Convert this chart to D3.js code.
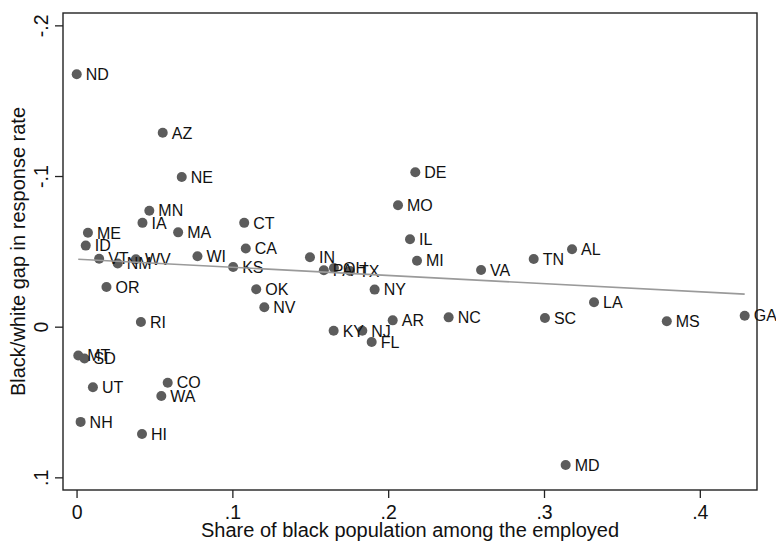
<!DOCTYPE html>
<html>
<head>
<meta charset="utf-8">
<script src="https://cdn.jsdelivr.net/npm/d3@7"></script>
<style>
  html, body { margin: 0; padding: 0; background: #fff; }
  svg { display: block; font-family: "Liberation Sans", Arial, Helvetica, sans-serif; }
</style>
</head>
<body>
<svg id="chart" width="776" height="542"></svg>
<script>
// ---- data ----
const states = ["ND","AZ","NE","MN","IA","ME","MA","ID","CT","CA","WI","VT","NM","WV","KS","OR","RI","MT","SD","UT","CO","WA","NH","HI","OK","NV","IN","PA","OH","TX","NY","DE","MO","IL","MI","VA","KY","NJ","FL","AR","NC","TN","AL","LA","SC","MS","GA","MD"];
const blackShare = [0.0001,0.0553,0.0675,0.0467,0.0423,0.0073,0.0652,0.0059,0.1076,0.1086,0.0776,0.0145,0.0264,0.0381,0.1005,0.0192,0.0413,0.0011,0.0051,0.0105,0.0585,0.0544,0.0026,0.0420,0.1153,0.1205,0.1498,0.1587,0.1652,0.1755,0.1913,0.2174,0.2063,0.2140,0.2185,0.2596,0.1650,0.1834,0.1894,0.2029,0.2388,0.2934,0.3180,0.3321,0.3006,0.3788,0.4288,0.3139];
const responseGap = [-0.1675,-0.1287,-0.0993,-0.0770,-0.0689,-0.0623,-0.0626,-0.0538,-0.0689,-0.0519,-0.0467,-0.0451,-0.0419,-0.0447,-0.0396,-0.0263,-0.0031,0.0191,0.0211,0.0402,0.0372,0.0460,0.0632,0.0712,-0.0248,-0.0129,-0.0461,-0.0374,-0.0390,-0.0370,-0.0246,-0.1025,-0.0806,-0.0580,-0.0438,-0.0376,0.0027,0.0027,0.0102,-0.0042,-0.0062,-0.0449,-0.0514,-0.0162,-0.0058,-0.0036,-0.0073,0.0918];
const fitX = [0.0011, 0.4288];
const fitY = [-0.0448, -0.0216];
const xTicks = [0, 0.1, 0.2, 0.3, 0.4];
const xTickLabels = ["0", ".1", ".2", ".3", ".4"];
const yTicks = [-0.2, -0.1, 0, 0.1];
const yTickLabels = ["-.2", "-.1", "0", ".1"];
const xTitle = "Share of black population among the employed";
const yTitle = "Black/white gap in response rate";

// ---- layout ----
const plot = { left: 63, right: 757, top: 13, bottom: 490 };
const svg = d3.select("#chart");

const x = d3.scaleLinear().domain([-0.0087, 0.4367]).range([plot.left, plot.right]);
// reversed y axis: negative values at the top
const y = d3.scaleLinear().domain([-0.2082, 0.1084]).range([plot.top, plot.bottom]);

const points = states.map((s, i) => ({ s, x: blackShare[i], y: responseGap[i] }));

// frame
svg.append("rect")
  .attr("x", plot.left).attr("y", plot.top)
  .attr("width", plot.right - plot.left).attr("height", plot.bottom - plot.top)
  .attr("fill", "none").attr("stroke", "#222").attr("stroke-width", 1.4);

// x axis
const xAxis = d3.axisBottom(x).tickValues(xTicks)
  .tickFormat((d, i) => xTickLabels[i]).tickSize(8).tickPadding(7);
const gx = svg.append("g").attr("transform", `translate(0,${plot.bottom})`).call(xAxis);
gx.select(".domain").remove();
gx.selectAll(".tick line").attr("stroke", "#222").attr("stroke-width", 1.3);
gx.selectAll(".tick text").attr("font-size", 19.5).attr("fill", "#111")
  .attr("font-family", "'Liberation Sans', Arial, sans-serif");

// y axis
const yAxis = d3.axisLeft(y).tickValues(yTicks)
  .tickFormat((d, i) => yTickLabels[i]).tickSize(8).tickPadding(7);
const gy = svg.append("g").attr("transform", `translate(${plot.left},0)`).call(yAxis);
gy.select(".domain").remove();
gy.selectAll(".tick line").attr("stroke", "#222").attr("stroke-width", 1.3);
gy.selectAll(".tick text")
  .attr("font-size", 19.5).attr("fill", "#111")
  .attr("font-family", "'Liberation Sans', Arial, sans-serif")
  .attr("text-anchor", "middle")
  .attr("x", null).attr("dy", null)
  .attr("transform", "translate(-15,0) rotate(-90)");

// axis titles
svg.append("text")
  .attr("x", (plot.left + plot.right) / 2).attr("y", 537)
  .attr("text-anchor", "middle").attr("font-size", 20).attr("fill", "#111")
  .text(xTitle);
svg.append("text")
  .attr("transform", `translate(25,${(plot.top + plot.bottom) / 2}) rotate(-90)`)
  .attr("text-anchor", "middle").attr("font-size", 20).attr("fill", "#111")
  .text(yTitle);

// scatter points
svg.append("g").selectAll("circle").data(points).join("circle")
  .attr("cx", d => x(d.x)).attr("cy", d => y(d.y)).attr("r", 5)
  .attr("fill", "#5c5c5c");

// labels
svg.append("g").selectAll("text").data(points).join("text")
  .attr("x", d => x(d.x) + 9).attr("y", d => y(d.y))
  .attr("dy", "0.36em").attr("font-size", 16).attr("fill", "#111")
  .text(d => d.s);

// linear fit line
svg.append("line")
  .attr("x1", x(fitX[0])).attr("y1", y(fitY[0]))
  .attr("x2", x(fitX[1])).attr("y2", y(fitY[1]))
  .attr("stroke", "#9a9a9a").attr("stroke-width", 1.6);
</script>
</body>
</html>
